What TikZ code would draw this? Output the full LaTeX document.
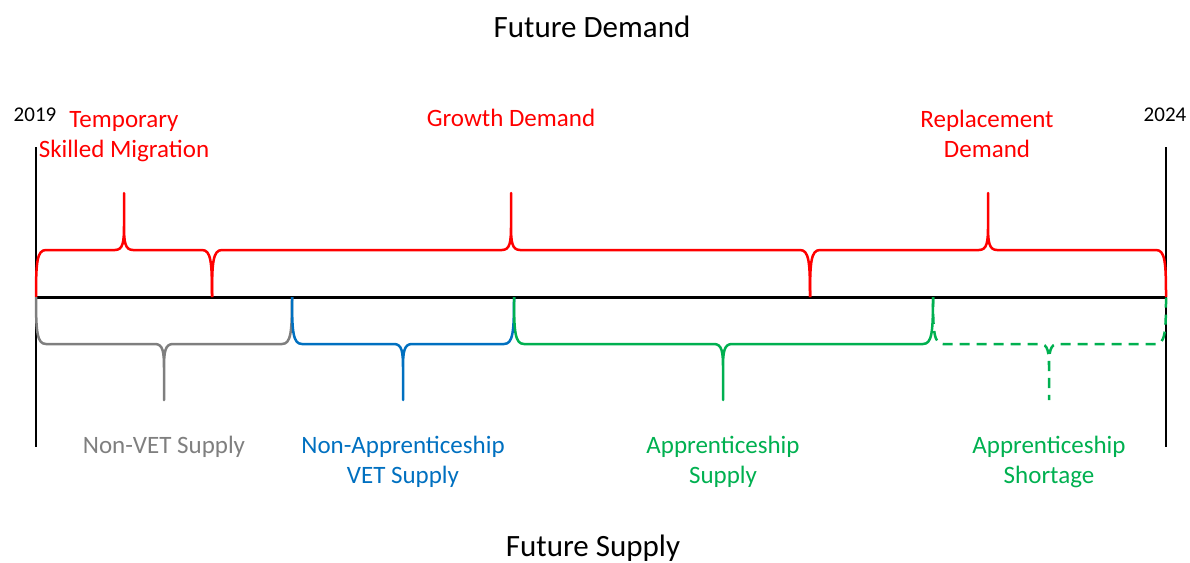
\documentclass[tikz,border=0pt]{standalone}
\usepackage{fontspec}
\setmainfont{Carlito}
\definecolor{nonvetgray}{RGB}{127,127,127}
\definecolor{vetblue}{RGB}{0,112,192}
\definecolor{apprgreen}{RGB}{0,176,80}
\tikzset{
	demand/.style={red,line width=2.5pt,line join=round},
	nonvet/.style={nonvetgray,line width=2.5pt,line join=round},
	vet/.style={vetblue,line width=2.5pt,line join=round},
	appr/.style={apprgreen,line width=2.5pt,line join=round},
	shortage/.style={apprgreen,line width=2.5pt,dash pattern=on 10pt off 7pt},
	title/.style={inner sep=0,font=\fontsize{31}{37}\selectfont},
	year/.style={inner sep=0,font=\fontsize{21}{25}\selectfont},
	lbl/.style={inner sep=0,align=center,font=\fontsize{25}{30}\selectfont}
}

\begin{document}
\begin{tikzpicture}[x=1pt,y=-1pt]
	\useasboundingbox (0,0) rectangle (1190,562);
	% time line
	\coordinate (start) at (36,297);
	\coordinate (end) at (1166,297);
	\draw[line width=3pt] (start) -- (end);
	\draw[line width=2.5pt] (36,147) -- (36,447);
	\draw[line width=2.5pt] (1166,147) -- (1166,447);
	\node[year] (y2019) at (35,115) {2019};
	\node[year] (y2024) at (1165,115) {2024};
	% demand braces
	\foreach \a/\m/\b in {36/124/212, 212/511/810, 810/988/1166}
		\draw[demand] (\a,297) .. controls (\a,262) and (\a+1,250) .. (\a+10,250)
			-- (\m-9,250) .. controls (\m-1,250) and (\m,242) .. (\m,226) -- (\m,193)
			-- (\m,226) .. controls (\m,242) and (\m+1,250) .. (\m+9,250)
			-- (\b-10,250) .. controls (\b-1,250) and (\b,262) .. (\b,297);
	% supply braces
	\foreach \a/\m/\b/\s in {36/164/292/nonvet, 292/403/514/vet, 514/723/933/appr, 933/1049/1166/shortage}
		\draw[\s] (\a,297) .. controls (\a,332) and (\a+1,344) .. (\a+10,344)
			-- (\m-9,344) .. controls (\m-1,344) and (\m,352) .. (\m,368) -- (\m,400)
			-- (\m,368) .. controls (\m,352) and (\m+1,344) .. (\m+9,344)
			-- (\b-10,344) .. controls (\b-1,344) and (\b,332) .. (\b,297);
	% labels
	\node[title] (fdemand) at (592,27) {Future Demand};
	\node[title] (fsupply) at (593,548) {Future Supply};
	\node[lbl,red] (tsm) at (124,137) {Temporary\\Skilled Migration};
	\node[lbl,red] (growth) at (511,118) {Growth Demand};
	\node[lbl,red] (repl) at (987,134) {Replacement\\Demand};
	\node[lbl,nonvetgray] (nvs) at (164,447) {Non-VET Supply};
	\node[lbl,vetblue] (nas) at (403,462) {Non-Apprenticeship\\VET Supply};
	\node[lbl,apprgreen] (as) at (723,462) {Apprenticeship\\Supply};
	\node[lbl,apprgreen] (ash) at (1049,462) {Apprenticeship\\Shortage};
\end{tikzpicture}
\end{document}
